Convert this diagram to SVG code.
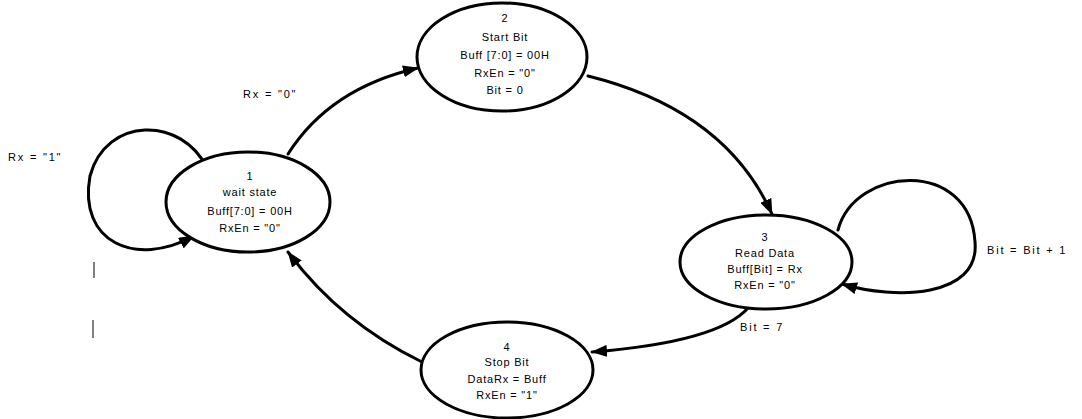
<svg xmlns="http://www.w3.org/2000/svg" width="1082" height="419" viewBox="0 0 1082 419">
  <style>
    .state { fill: #ffffff; stroke: #000000; stroke-width: 3; }
    .edge { fill: none; stroke: #000000; stroke-width: 3; stroke-linecap: round; }
    .lbl { font-family: "Liberation Sans", Arial, sans-serif; font-size: 11px; letter-spacing: 0.8px; fill: #000000; text-anchor: middle; }
    .elbl { font-family: "Liberation Sans", Arial, sans-serif; font-size: 11px; letter-spacing: 1.8px; fill: #000000; }
    .tick { stroke: #000000; stroke-width: 1; }
  </style>
  <defs>
    <marker id="arrow" viewBox="0 0 16 12" refX="15" refY="6" markerWidth="16" markerHeight="12" markerUnits="userSpaceOnUse" orient="auto">
      <path d="M0,0 L16,6 L0,12 Z" fill="#000000"/>
    </marker>
  </defs>
  <rect width="1082" height="419" fill="#ffffff"/>

  <!-- transitions -->
  <g id="connectors">
    <path class="edge" d="M288,154 Q330,88 418,68" marker-end="url(#arrow)"/>
    <path class="edge" d="M588,76 Q725,110 772,214" marker-end="url(#arrow)"/>
    <path class="edge" d="M838,230 C855,166 970,158 975,242 C980,298 895,300 842,284" marker-end="url(#arrow)"/>
    <path class="edge" d="M748,308 Q718,342 592,352" marker-end="url(#arrow)"/>
    <path class="edge" d="M422,362 Q340,322 288,252" marker-end="url(#arrow)"/>
    <path class="edge" d="M207,168 C182,116 106,116 90,176 C78,242 135,268 194,236" marker-end="url(#arrow)"/>
    <text class="elbl" x="243" y="98">Rx = "0"</text>
    <text class="elbl" x="8" y="161">Rx = "1"</text>
    <text class="elbl" x="987" y="254">Bit = Bit + 1</text>
    <text class="elbl" x="740" y="331">Bit = 7</text>
  </g>

  <!-- state 1 -->
  <g id="state1">
    <ellipse class="state" cx="248" cy="202" rx="82" ry="50"/>
    <text class="lbl" x="250" y="180">1</text>
    <text class="lbl" x="250" y="196">wait state</text>
    <text class="lbl" x="250" y="215">Buff[7:0] = 00H</text>
    <text class="lbl" x="250" y="232">RxEn = "0"</text>
  </g>

  <!-- state 2 -->
  <g id="state2">
    <ellipse class="state" cx="502" cy="57" rx="85" ry="54"/>
    <text class="lbl" x="505" y="22">2</text>
    <text class="lbl" x="505" y="41">Start Bit</text>
    <text class="lbl" x="505" y="59">Buff [7:0] = 00H</text>
    <text class="lbl" x="505" y="77">RxEn = "0"</text>
    <text class="lbl" x="505" y="94">Bit = 0</text>
  </g>

  <!-- state 3 -->
  <g id="state3">
    <ellipse class="state" cx="766" cy="262" rx="86" ry="47"/>
    <text class="lbl" x="765" y="241">3</text>
    <text class="lbl" x="765" y="257">Read Data</text>
    <text class="lbl" x="765" y="273">Buff[Bit] = Rx</text>
    <text class="lbl" x="765" y="289">RxEn = "0"</text>
  </g>

  <!-- state 4 -->
  <g id="state4">
    <ellipse class="state" cx="507" cy="370" rx="86" ry="48"/>
    <text class="lbl" x="507" y="351">4</text>
    <text class="lbl" x="507" y="366">Stop Bit</text>
    <text class="lbl" x="507" y="383">DataRx = Buff</text>
    <text class="lbl" x="507" y="399">RxEn = "1"</text>
  </g>

  <!-- stray tick marks -->
  <line class="tick" x1="94" y1="262" x2="94" y2="278"/>
  <line class="tick" x1="93" y1="320" x2="93" y2="338"/>
</svg>
